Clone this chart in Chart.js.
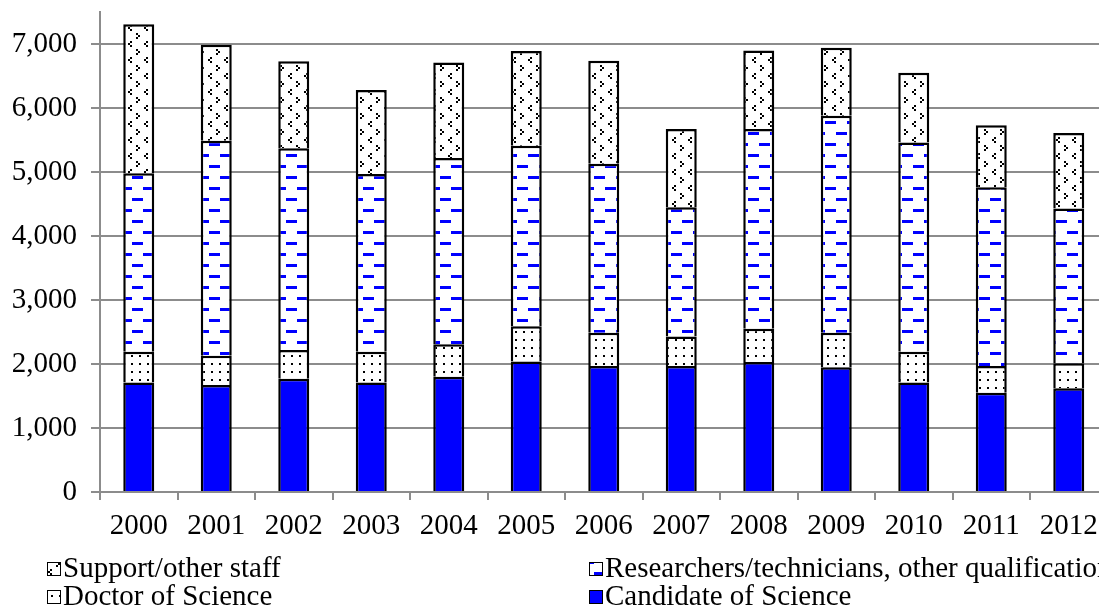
<!DOCTYPE html>
<html>
<head>
<meta charset="utf-8">
<script src="https://cdn.jsdelivr.net/npm/chart.js@4"></script>
<style>
  html, body { margin: 0; padding: 0; background: #fff; overflow: hidden; width: 1099px; height: 607px; }
  canvas { display: block; }
</style>
</head>
<body>
<canvas id="c" width="1110" height="607"></canvas>
<script>
// Staff headcount by year, stacked from the bottom up
const years = ['2000', '2001', '2002', '2003', '2004', '2005', '2006', '2007', '2008', '2009', '2010', '2011', '2012'];
const candidateOfScience = [1710, 1670, 1770, 1710, 1800, 2040, 1970, 1970, 2030, 1950, 1710, 1550, 1620];
const doctorOfScience    = [480, 460, 450, 480, 510, 550, 520, 460, 520, 540, 480, 420, 390];
const researchersOther   = [2790, 3360, 3150, 2780, 2910, 2820, 2640, 2020, 3120, 3390, 3270, 2790, 2420];
const supportStaff       = [2330, 1500, 1360, 1310, 1490, 1480, 1610, 1220, 1230, 1060, 1090, 970, 1180];
const yTickValues = [0, 1000, 2000, 3000, 4000, 5000, 6000, 7000];

const seriesNames = {
  candidate: 'Candidate of Science',
  doctor: 'Doctor of Science',
  researchers: 'Researchers/technicians, other qualification',
  support: 'Support/other staff'
};

// Hatch fills built from small tiles
function makeTile(w, h, draw) {
  const t = document.createElement('canvas');
  t.width = w; t.height = h;
  const g = t.getContext('2d');
  g.fillStyle = '#fff';
  g.fillRect(0, 0, w, h);
  draw(g);
  return g.createPattern(t, 'repeat');
}

// little "<" and ">" marks on white
const chevronFill = makeTile(16, 16, g => {
  g.fillStyle = '#000';
  // ">"
  g.fillRect(8, 1, 2, 2); g.fillRect(10, 3, 2, 2); g.fillRect(8, 5, 2, 2);
  // "<"
  g.fillRect(2, 9, 2, 2); g.fillRect(0, 11, 2, 2); g.fillRect(2, 13, 2, 2);
});

// sparse dots on white
const dotFill = makeTile(8, 8, g => {
  g.fillStyle = '#000';
  g.fillRect(3, 3, 2, 2);
});

// staggered blue dashes on white
const dashFill = makeTile(22, 22, g => {
  g.fillStyle = '#0000ff';
  g.fillRect(0, 0, 11, 3);
  g.fillRect(11, 11, 11, 3);
});

const solidBlue = '#0000ff';
const labelFamily = '"Liberation Serif"';

// Two-column legend under the axis
const gridLegend = {
  id: 'gridLegend',
  afterDraw(chart) {
    const ctx = chart.ctx;
    const ds = chart.data.datasets;
    const order = [3, 2, 1, 0];
    const cols = [47, 589];
    const rows = [569, 597];
    ctx.save();
    ctx.font = '29px ' + labelFamily;
    ctx.textBaseline = 'middle';
    ctx.textAlign = 'left';
    order.forEach((di, i) => {
      const d = ds[di];
      const x = cols[i % 2];
      const y = rows[Math.floor(i / 2)];
      ctx.fillStyle = d.backgroundColor;
      ctx.fillRect(x, y - 7, 14, 14);
      ctx.strokeStyle = '#000';
      ctx.lineWidth = 1;
      ctx.strokeRect(x + 0.5, y - 6.5, 13, 13);
      ctx.fillStyle = '#000';
      ctx.fillText(d.label, x + 16, y);
    });
    ctx.restore();
  }
};

const gridGray = '#8c8c8c';
const tickFont = { family: labelFamily, size: 29 };

new Chart(document.getElementById('c'), {
  type: 'bar',
  data: {
    labels: years,
    datasets: [
      { label: seriesNames.candidate, data: candidateOfScience, backgroundColor: solidBlue },
      { label: seriesNames.doctor, data: doctorOfScience, backgroundColor: dotFill },
      { label: seriesNames.researchers, data: researchersOther, backgroundColor: dashFill },
      { label: seriesNames.support, data: supportStaff, backgroundColor: chevronFill }
    ].map(d => Object.assign(d, {
      borderColor: '#000',
      borderWidth: 2.5,
      barPercentage: 0.4,
      categoryPercentage: 1.0
    }))
  },
  options: {
    responsive: false,
    animation: false,
    devicePixelRatio: 1,
    layout: { padding: { top: 12, bottom: 65, left: 0, right: 2.5 } },
    plugins: {
      legend: { display: false },
      tooltip: { enabled: false }
    },
    scales: {
      x: {
        stacked: true,
        grid: { drawOnChartArea: false, drawTicks: true, tickLength: 8, color: gridGray, lineWidth: 2, offset: true },
        border: { color: gridGray, width: 2 },
        ticks: { color: '#000', font: tickFont, padding: 9, maxRotation: 0, autoSkip: false },
        afterFit(s) { s.height = 50; s.paddingLeft = 0; s.paddingRight = 0; }
      },
      y: {
        stacked: true,
        min: 0,
        max: 7500,
        grid: { color: gridGray, lineWidth: 2, tickLength: 9 },
        border: { color: gridGray, width: 2 },
        ticks: {
          color: '#000',
          font: tickFont,
          padding: 14,
          includeBounds: false,
          stepSize: 1000,
          callback: v => v.toLocaleString('en-US')
        },
        afterBuildTicks(s) { s.ticks = yTickValues.map(v => ({ value: v })); },
        afterFit(s) { s.width = 100; s.paddingTop = 0; s.paddingBottom = 0; }
      }
    }
  },
  plugins: [gridLegend]
});
</script>
</body>
</html>
